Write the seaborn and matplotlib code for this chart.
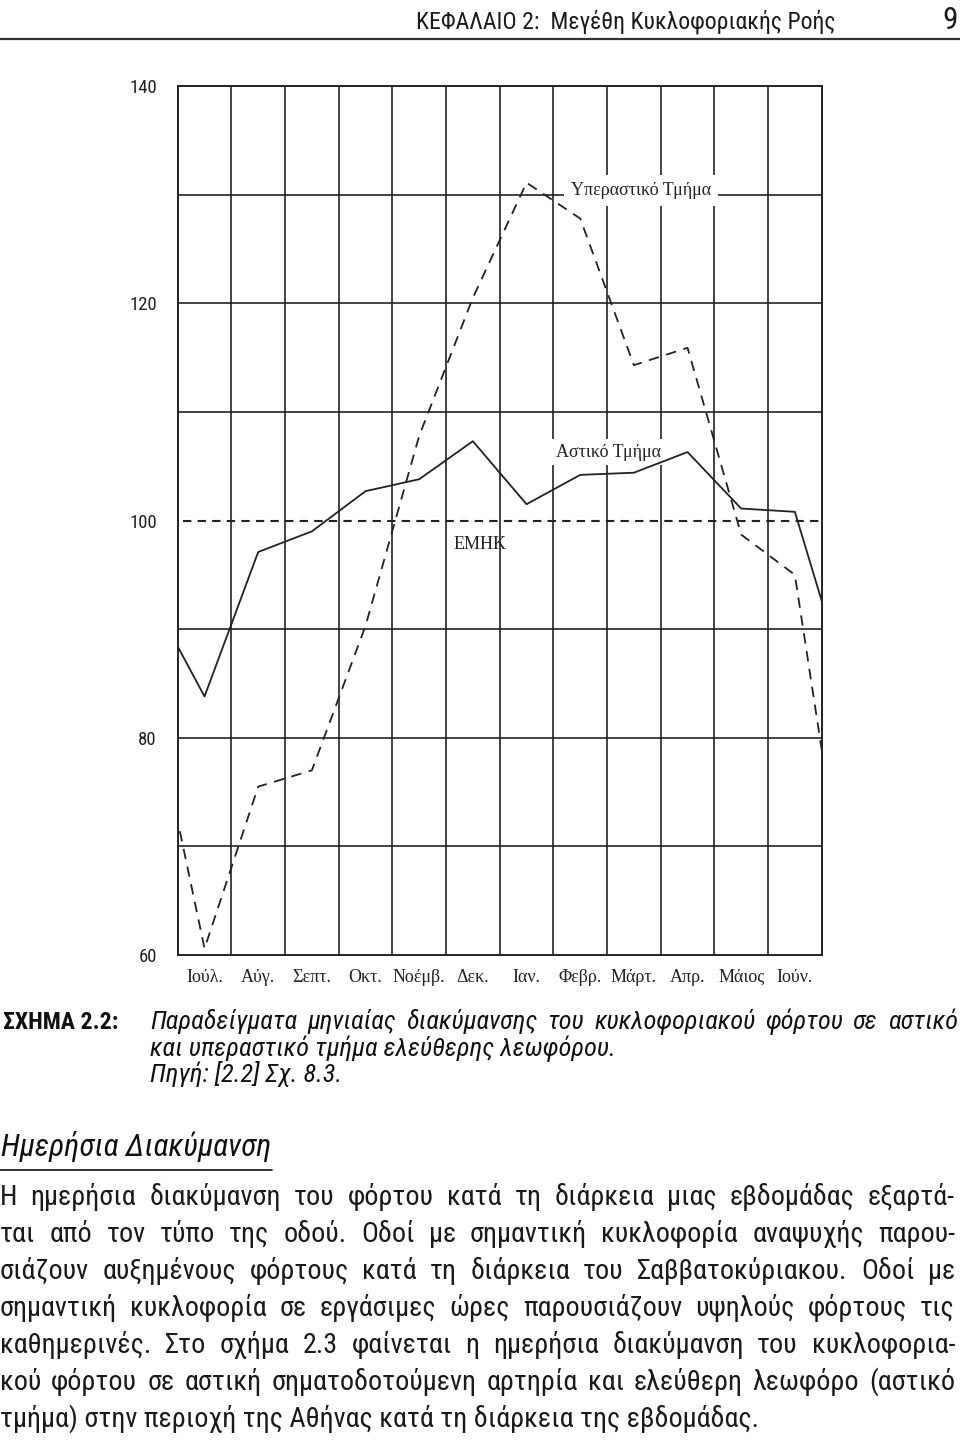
import numpy as np
import pandas as pd
import matplotlib
matplotlib.use("Agg")
import matplotlib.pyplot as plt
import seaborn as sns
from matplotlib import font_manager as fm
from matplotlib.lines import Line2D

# ---------------- data ----------------
months = ["Ιούλ.", "Αύγ.", "Σεπτ.", "Οκτ.", "Νοέμβ.", "Δεκ.",
          "Ιαν.", "Φεβρ.", "Μάρτ.", "Απρ.", "Μάιος", "Ιούν."]
urban_values = [83.8, 97.1, 99.0, 102.7, 103.8, 107.3,
                101.5, 104.2, 104.4, 106.3, 101.1, 100.8]
rural_values = [60.6, 75.5, 77.0, 90.3, 107.8, 120.5,
                131.1, 127.8, 114.3, 115.9, 98.7, 95.0]
# values where each curve meets the left / right border of the grid
urban_edge_values = [88.4, 92.6]
urban_edge_positions = [-0.5, 11.5]
rural_edge_values = [71.4, 78.9]
rural_edge_positions = [-0.46, 11.5]
emhk_value = 100
y_ticks = [60, 80, 100, 120, 140]
y_grid = [70, 80, 90, 110, 120, 130]
series_labels = ["Αστικό Τμήμα", "Υπεραστικό Τμήμα"]
emhk_label = "ΕΜΗΚ"

header_text = "ΚΕΦΑΛΑΙΟ 2:  Μεγέθη Κυκλοφοριακής Ροής"
page_number = "9"
caption_label = "ΣΧΗΜΑ 2.2:"
caption_lines = [
    "Παραδείγματα μηνιαίας διακύμανσης του κυκλοφοριακού φόρτου σε αστικό",
    "και υπεραστικό τμήμα ελεύθερης λεωφόρου.",
    "Πηγή: [2.2] Σχ. 8.3.",
]
heading = "Ημερήσια Διακύμανση"
body_lines = [
    "Η ημερήσια διακύμανση του φόρτου κατά τη διάρκεια μιας εβδομάδας εξαρτά-",
    "ται από τον τύπο της οδού. Οδοί με σημαντική κυκλοφορία αναψυχής παρου-",
    "σιάζουν αυξημένους φόρτους κατά τη διάρκεια του Σαββατοκύριακου. Οδοί με",
    "σημαντική κυκλοφορία σε εργάσιμες ώρες παρουσιάζουν υψηλούς φόρτους τις",
    "καθημερινές. Στο σχήμα 2.3 φαίνεται η ημερήσια διακύμανση του κυκλοφορια-",
    "κού φόρτου σε αστική σηματοδοτούμενη αρτηρία και ελεύθερη λεωφόρο (αστικό",
    "τμήμα) στην περιοχή της Αθήνας κατά τη διάρκεια της εβδομάδας.",
]

# ---------------- style ----------------
sns.set_style("white")
plt.rcParams["font.family"] = ["Liberation Sans", "DejaVu Sans"]
plt.rcParams["lines.scale_dashes"] = False

INK = "#222222"


def pick_narrow():
    for fam in ["Liberation Sans Narrow", "Arial Narrow", "Roboto Condensed",
                "Open Sans Condensed", "Noto Sans Condensed"]:
        try:
            fm.findfont(fm.FontProperties(family=fam), fallback_to_default=False)
            return dict(family=fam)
        except Exception:
            pass
    try:
        p = fm.findfont(fm.FontProperties(family="DejaVu Sans", stretch="condensed"))
        if "Condensed" in p:
            return dict(family="DejaVu Sans", stretch="condensed")
    except Exception:
        pass
    return dict(family="Liberation Sans")


NARROW = pick_narrow()

W, H = 960, 1442
fig = plt.figure(figsize=(W / 100, H / 100), dpi=100)
fig.patch.set_facecolor("white")
renderer = fig.canvas.get_renderer()


def fx(x):
    return x / W


def fy(y):
    return 1 - y / H


def text_w(s, fp):
    w, h, d = renderer.get_text_width_height_descent(s, fp, ismath=False)
    return w


def fit_fp(s, target, **kw):
    fp = fm.FontProperties(size=20, **kw)
    w = text_w(s, fp)
    return fm.FontProperties(size=20 * target / w, **kw)


def justify(line, x0, x1, y, fp, color):
    words = line.split(" ")
    ws = [text_w(w, fp) for w in words]
    gap = (x1 - x0 - sum(ws)) / max(len(words) - 1, 1)
    x = x0
    for word, ww in zip(words, ws):
        fig.text(fx(x), fy(y), word, fontproperties=fp, ha="left",
                 va="baseline", color=color)
        x += ww + gap


# ---------------- chart ----------------
ax = fig.add_axes([fx(177.7), fy(955), (821.7 - 177.7) / W, (955 - 86) / H])
ax.set_facecolor("white")

pos = list(range(len(months)))
urban_df = pd.DataFrame({
    "pos": [urban_edge_positions[0]] + pos + [urban_edge_positions[1]],
    "value": [urban_edge_values[0]] + urban_values + [urban_edge_values[1]],
})
rural_df = pd.DataFrame({
    "pos": [rural_edge_positions[0]] + pos + [rural_edge_positions[1]],
    "value": [rural_edge_values[0]] + rural_values + [rural_edge_values[1]],
})

grid_kw = dict(color=INK, lw=1.2, zorder=1)
for i in range(1, len(months)):
    ax.axvline(i - 0.5, **grid_kw)
for v in y_grid:
    ax.axhline(v, **grid_kw)

ax.axhline(emhk_value, xmin=0.008, xmax=1, color=INK, lw=1.5,
           linestyle=(0, (6, 4.5)), zorder=2)

sns.lineplot(data=urban_df, x="pos", y="value", ax=ax, color=INK, lw=1.3,
             estimator=None, sort=False, zorder=3)
sns.lineplot(data=rural_df, x="pos", y="value", ax=ax, color=INK, lw=1.3,
             estimator=None, sort=False, linestyle=(0, (7.5, 5.5)), zorder=3)

ax.set_xlim(-0.5, len(months) - 0.5)
ax.set_ylim(60, 140)
ax.set_xticks(pos)
ax.set_xticklabels(months, family="Liberation Serif", fontsize=13, color=INK)
ax.set_yticks(y_ticks)
ax.set_yticklabels([str(v) for v in y_ticks], fontsize=13.5, color=INK,
                   **NARROW)
ax.tick_params(axis="x", length=0, pad=10)
ax.tick_params(axis="y", length=0, pad=15)
ax.set_xlabel("")
ax.set_ylabel("")
for s in ax.spines.values():
    s.set_visible(True)
    s.set_color(INK)
    s.set_linewidth(1.4)

serif_kw = dict(family="Liberation Serif", fontsize=13, color=INK,
                ha="center", va="center", zorder=2)
ax.text(8.13, 130.4, series_labels[1],
        bbox=dict(facecolor="white", edgecolor="none", pad=5), **serif_kw)
ax.text(7.53, 106.3, series_labels[0],
        bbox=dict(facecolor="white", edgecolor="none", pad=3), **serif_kw)
ax.text(5.13, 97.8, emhk_label, **serif_kw)

# ---------------- page header ----------------
hfp = fit_fp(header_text, 420, **NARROW)
fig.text(fx(836), fy(29), header_text, fontproperties=hfp, ha="right",
         va="baseline", color="#1a1a1a")
nfp = fm.FontProperties(size=hfp.get_size() * 1.3, **NARROW)
fig.text(fx(958), fy(29), page_number, fontproperties=nfp, ha="right",
         va="baseline", color="#1a1a1a")
fig.add_artist(Line2D([0, 1], [fy(38.5), fy(38.5)], transform=fig.transFigure,
                      color="#333333", lw=1.6))

# ---------------- caption ----------------
cfp_bold = fit_fp(caption_label, 115, weight="bold", **NARROW)
fig.text(fx(3), fy(1029), caption_label, fontproperties=cfp_bold, ha="left",
         va="baseline", color="#111111")
cfp = fit_fp(caption_lines[0], 780, style="italic", **NARROW)
justify(caption_lines[0], 150, 958, 1029, cfp, "#111111")
fig.text(fx(150), fy(1056), caption_lines[1], fontproperties=cfp, ha="left",
         va="baseline", color="#111111")
fig.text(fx(150), fy(1082), caption_lines[2], fontproperties=cfp, ha="left",
         va="baseline", color="#111111")

# ---------------- heading ----------------
hdfp = fit_fp(heading, 270, style="italic", **NARROW)
fig.text(fx(1), fy(1156), heading, fontproperties=hdfp, ha="left",
         va="baseline", color="#111111")
fig.add_artist(Line2D([fx(0), fx(272)], [fy(1170), fy(1170)],
                      transform=fig.transFigure, color="#222222", lw=1.3))

# ---------------- body ----------------
base = fm.FontProperties(size=20, **NARROW)
widest = max(text_w(l, base) for l in body_lines[:-1])
bfp = fm.FontProperties(size=20.0 * 925 / widest, **NARROW)
for k, line in enumerate(body_lines):
    yb = 1205 + 37.0 * k
    if k < len(body_lines) - 1:
        justify(line, 0, 955, yb, bfp, "#1a1a1a")
    else:
        fig.text(fx(0), fy(yb), line, fontproperties=bfp, ha="left",
                 va="baseline", color="#1a1a1a")

fig.savefig("out.png", dpi=100, facecolor="white")
